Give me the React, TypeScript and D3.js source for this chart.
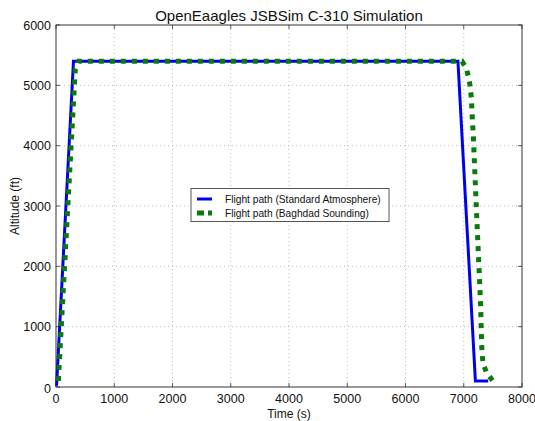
import React from "react";
import * as d3 from "d3";

const title = "OpenEaagles JSBSim C-310 Simulation";
const xLabel = "Time (s)";
const yLabel = "Altitude (ft)";
const xTicks = [0, 1000, 2000, 3000, 4000, 5000, 6000, 7000, 8000];
const yTicks = [0, 1000, 2000, 3000, 4000, 5000, 6000];

const stdTime = [10, 300, 6900, 7200, 7420];
const stdAlt = [20, 5400, 5400, 100, 100];

const bagTime = [40, 330, 390, 6970, 7050, 7100, 7130, 7150, 7165, 7225, 7290, 7300, 7312, 7330, 7385, 7500];
const bagAlt = [100, 5250, 5400, 5400, 5270, 5050, 4800, 4400, 4150, 2770, 1360, 950, 600, 400, 250, 100];

const seriesNames = ["Flight path (Standard Atmosphere)", "Flight path (Baghdad Sounding)"];

const W = 535, H = 421;
const L = 56, R = 522, T = 25, B = 387;

export default function App() {
  const x = d3.scaleLinear().domain([0, 8000]).range([L, R]);
  const y = d3.scaleLinear().domain([0, 6000]).range([B, T]);
  const line = d3.line<[number, number]>().x(d => x(d[0])).y(d => y(d[1]));
  const std: [number, number][] = stdTime.map((t, i) => [t, stdAlt[i]]);
  const bag: [number, number][] = bagTime.map((t, i) => [t, bagAlt[i]]);
  const font = "Liberation Sans, Arial, Helvetica, sans-serif";
  return (
    <svg width={W} height={H} style={{ position: "absolute", left: 0, top: 0, background: "#fff" }} fontFamily={font}>
      <rect x={0} y={0} width={W} height={H} fill="#fff" />
      {xTicks.slice(1, -1).map(v => (
        <line key={"gx" + v} x1={x(v)} x2={x(v)} y1={T} y2={B} stroke="#aaa" strokeWidth={0.8} strokeDasharray="1 3" />
      ))}
      {yTicks.slice(1, -1).map(v => (
        <line key={"gy" + v} x1={L} x2={R} y1={y(v)} y2={y(v)} stroke="#aaa" strokeWidth={0.8} strokeDasharray="1 3" />
      ))}
      {xTicks.map(v => (
        <g key={"tx" + v}>
          <line x1={x(v)} x2={x(v)} y1={B} y2={B - 4} stroke="#333" strokeWidth={0.8} />
          <line x1={x(v)} x2={x(v)} y1={T} y2={T + 4} stroke="#333" strokeWidth={0.8} />
          <text x={x(v)} y={403} fontSize={12.5} textAnchor="middle" fill="#111">{v}</text>
        </g>
      ))}
      {yTicks.map(v => (
        <g key={"ty" + v}>
          <line x1={L} x2={L + 4} y1={y(v)} y2={y(v)} stroke="#333" strokeWidth={0.8} />
          <line x1={R} x2={R - 4} y1={y(v)} y2={y(v)} stroke="#333" strokeWidth={0.8} />
          <text x={51} y={v === 0 ? y(v) + 6 : y(v) + 4.5} fontSize={12.5} textAnchor="end" fill="#111">{v}</text>
        </g>
      ))}
      <rect x={L} y={T} width={R - L} height={B - T} fill="none" stroke="#333" strokeWidth={1} />
      <path d={line(std) || ""} fill="none" stroke="#0000ee" strokeWidth={3} />
      <path d={line(bag) || ""} fill="none" stroke="#0a7a0a" strokeWidth={5} strokeDasharray="5 6" />
      <text x={(L + R) / 2} y={21} fontSize={15} textAnchor="middle" fill="#111">{title}</text>
      <text x={(L + R) / 2} y={418} fontSize={12} textAnchor="middle" fill="#111">{xLabel}</text>
      <text transform={`translate(19,${(T + B) / 2}) rotate(-90)`} fontSize={12} textAnchor="middle" fill="#111">{yLabel}</text>
      <g>
        <rect x={191} y={188.5} width={198} height={33} fill="#fff" stroke="#555" strokeWidth={1} />
        <line x1={197} x2={212} y1={199} y2={199} stroke="#0000ee" strokeWidth={3} />
        <line x1={197} x2={212} y1={213} y2={213} stroke="#0a7a0a" strokeWidth={5} strokeDasharray="7 4" />
        <text x={225} y={202.5} fontSize={10.2} fill="#111">{seriesNames[0]}</text>
        <text x={225} y={216.5} fontSize={10.2} fill="#111">{seriesNames[1]}</text>
      </g>
    </svg>
  );
}
